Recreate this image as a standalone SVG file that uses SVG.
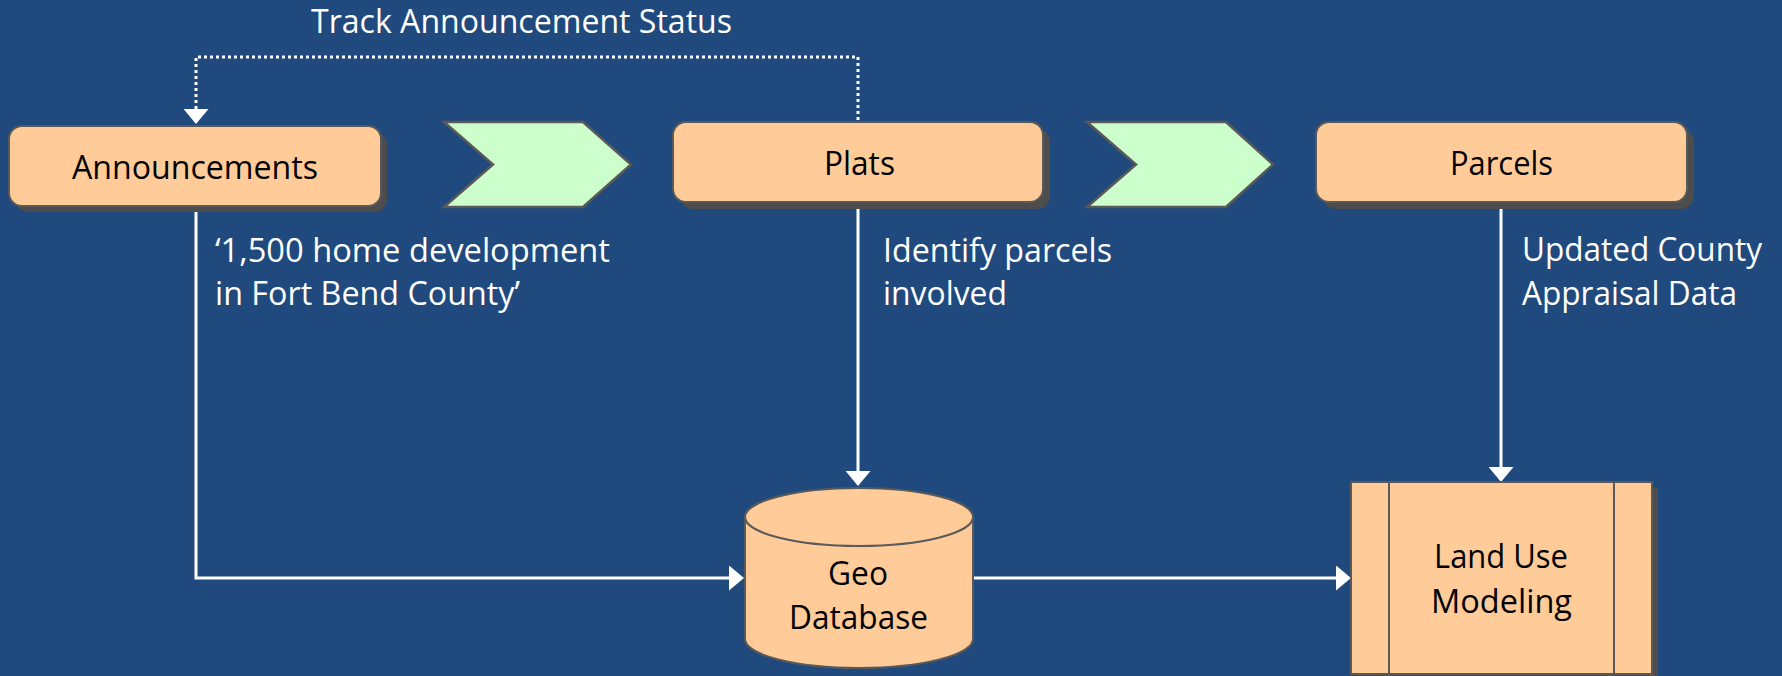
<svg xmlns="http://www.w3.org/2000/svg" width="1782" height="676" viewBox="0 0 1782 676">
<defs>
<style>
.bg{fill:#204A7D}
.box{fill:#FFCC99;stroke:#595959;stroke-width:2}
.shadow{fill:#4D4D4D}
.chev{fill:#CCFFCC;stroke:#595959;stroke-width:2.5;stroke-linejoin:miter}
.lbl{font-family:"Open Sans","Noto Sans",sans-serif;font-size:33px;fill:#000}
.wlbl{font-family:"Open Sans","Noto Sans",sans-serif;font-size:32px;fill:#fff}
.conn{fill:none;stroke:#fff;stroke-width:3}
.dot{fill:none;stroke:#fff;stroke-width:3;stroke-dasharray:3 3}
</style>
<marker id="ah" viewBox="0 0 15 25" refX="5" refY="12.5" markerWidth="15" markerHeight="25" markerUnits="userSpaceOnUse" orient="auto">
<path d="M0,0 L15,12.5 L0,25 Z" fill="#fff"/>
</marker>
</defs>
<rect class="bg" x="0" y="0" width="1782" height="676"/>

<text class="wlbl" x="311" y="33" textLength="421" lengthAdjust="spacingAndGlyphs">Track Announcement Status</text>

<g id="connectors">
<path class="dot" d="M858,120 V57 H196 V114" marker-end="url(#ah)"/>
<path class="conn" d="M196,206 V578 H734" marker-end="url(#ah)"/>
<path class="conn" d="M858,202 V476" marker-end="url(#ah)"/>
<path class="conn" d="M1501,202 V472" marker-end="url(#ah)"/>
<path class="conn" d="M973,578 H1341" marker-end="url(#ah)"/>
</g>

<g id="announcements">
<rect class="shadow" x="15" y="132" width="372" height="80" rx="13"/>
<rect class="box" x="9" y="126" width="372" height="80" rx="13"/>
<text class="lbl" x="72" y="179" textLength="246" lengthAdjust="spacingAndGlyphs">Announcements</text>
</g>

<g id="chevron1">
<polygon class="chev" points="444,122 583,122 631,164.5 583,207 444,207 493,164.5"/>
</g>

<g id="plats">
<rect class="shadow" x="680" y="129" width="370" height="80" rx="13"/>
<rect class="box" x="673" y="122" width="370" height="80" rx="13"/>
<text class="lbl" x="824" y="175" textLength="71" lengthAdjust="spacingAndGlyphs">Plats</text>
</g>

<g id="chevron2">
<polygon class="chev" points="1087,122 1226,122 1273,164.5 1226,207 1087,207 1136,164.5"/>
</g>

<g id="parcels">
<rect class="shadow" x="1323" y="129" width="371" height="80" rx="13"/>
<rect class="box" x="1316" y="122" width="371" height="80" rx="13"/>
<text class="lbl" x="1450" y="175" textLength="103" lengthAdjust="spacingAndGlyphs">Parcels</text>
</g>

<text class="wlbl" x="215" y="262" textLength="395" lengthAdjust="spacingAndGlyphs">‘1,500 home development</text>
<text class="wlbl" x="215" y="305" textLength="305" lengthAdjust="spacingAndGlyphs">in Fort Bend County’</text>
<text class="wlbl" x="883" y="262" textLength="229" lengthAdjust="spacingAndGlyphs">Identify parcels</text>
<text class="wlbl" x="883" y="305" textLength="124" lengthAdjust="spacingAndGlyphs">involved</text>
<text class="wlbl" x="1522" y="261" textLength="240" lengthAdjust="spacingAndGlyphs">Updated County</text>
<text class="wlbl" x="1522" y="305" textLength="215" lengthAdjust="spacingAndGlyphs">Appraisal Data</text>

<g id="geodatabase">
<path class="box" d="M745,517 V639 A114,29 0 0 0 973,639 V517"/>
<ellipse class="box" cx="859" cy="517" rx="114" ry="29"/>
<text class="lbl" x="828" y="585" font-size="31" textLength="60" lengthAdjust="spacingAndGlyphs">Geo</text>
<text class="lbl" x="789" y="629" font-size="31" textLength="139" lengthAdjust="spacingAndGlyphs">Database</text>
</g>

<g id="landuse">
<rect class="shadow" x="1357" y="488" width="301" height="192"/>
<rect class="box" x="1351" y="482" width="301" height="192"/>
<line x1="1389" y1="482" x2="1389" y2="674" stroke="#595959" stroke-width="2"/>
<line x1="1614" y1="482" x2="1614" y2="674" stroke="#595959" stroke-width="2"/>
<text class="lbl" x="1434" y="568" font-size="31" textLength="134" lengthAdjust="spacingAndGlyphs">Land Use</text>
<text class="lbl" x="1431" y="613" font-size="31" textLength="141" lengthAdjust="spacingAndGlyphs">Modeling</text>
</g>
</svg>
